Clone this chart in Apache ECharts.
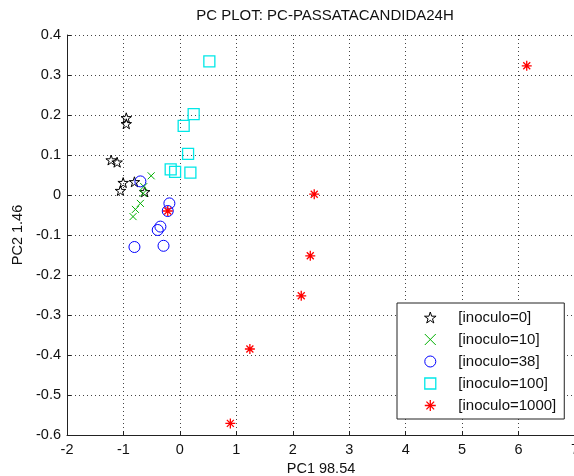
<!DOCTYPE html>
<html>
<head>
<meta charset="utf-8">
<script src="https://cdn.jsdelivr.net/npm/echarts@6/dist/echarts.min.js"></script>
<style>html,body{margin:0;padding:0;background:#fff}#c{width:574px;height:476px}</style>
</head>
<body>
<div id="c"></div>
<script>
var titleText = 'PC PLOT: PC-PASSATACANDIDA24H';
var xName = 'PC1 98.54';
var yName = 'PC2 1.46';
var seriesNames = ['[inoculo=0]', '[inoculo=10]', '[inoculo=38]', '[inoculo=100]', '[inoculo=1000]'];
var inoculo0 = [[-0.95, 0.193], [-0.95, 0.178], [-1.218, 0.0875], [-1.112, 0.082], [-1.005, 0.031], [-1.053, 0.011], [-0.805, 0.033], [-0.623, 0.008]];
var inoculo10 = [[-0.509, 0.048], [-0.64, 0.021], [-0.651, 0.004], [-0.70, -0.021], [-0.788, -0.036], [-0.83, -0.054]];
var inoculo38 = [[-0.70, 0.034], [-0.186, -0.021], [-0.215, -0.04], [-0.345, -0.079], [-0.393, -0.0875], [-0.805, -0.130], [-0.29, -0.127]];
var inoculo100 = [[0.522, 0.334], [0.244, 0.202], [0.067, 0.173], [0.145, 0.103], [-0.163, 0.064], [-0.085, 0.058], [0.186, 0.056]];
var inoculo1000 = [[-0.215, -0.04], [0.894, -0.571], [1.24, -0.385], [2.15, -0.252], [2.31, -0.152], [2.38, 0.002], [6.145, 0.323]];

var FONT = 'Liberation Sans, Arial, sans-serif';
var starPath = 'path://M50,0L61.23,34.55L97.55,34.55L68.16,55.9L79.39,90.45L50,69.1L20.61,90.45L31.84,55.9L2.45,34.55L38.77,34.55Z';
var xPath = 'path://M0,0L10,10M10,0L0,10';
var astPath = 'path://M5,0L5,10M0,5L10,5M1.5,1.5L8.5,8.5M8.5,1.5L1.5,8.5';
var sqPath = 'path://M0,0L10,0L10,10L0,10Z';
var circPath = 'circle';

var colors = ['#000000', '#00b000', '#0000ff', '#00e8e8', '#ff0000'];
var symbols = [starPath, xPath, circPath, sqPath, astPath];
var sizes = [10.5, 7, 11, 11, 10];
var widths = [1, 1, 1, 1.3, 1.3];
var datasets = [inoculo0, inoculo10, inoculo38, inoculo100, inoculo1000];

var series = [];
var legendData = [];
for (var i = 0; i < seriesNames.length; i++) {
  var st = { color: 'rgba(0,0,0,0)', borderColor: colors[i], borderWidth: widths[i], opacity: 1 };
  series.push({
    name: seriesNames[i], type: 'scatter', data: datasets[i], symbol: symbols[i], symbolSize: sizes[i],
    symbolKeepAspect: true, itemStyle: st, emphasis: { disabled: true }, animation: false
  });
  legendData.push({ name: seriesNames[i], icon: symbols[i], itemStyle: { color: 'rgba(0,0,0,0)', borderColor: colors[i], borderWidth: widths[i] } });
}

var chart = echarts.init(document.getElementById('c'), null, { renderer: 'canvas' });
chart.setOption({
  animation: false,
  backgroundColor: '#fff',
  title: {
    text: titleText, left: 320, top: 3, textAlign: 'center',
    textStyle: { fontSize: 15, fontWeight: 'normal', color: '#111', fontFamily: FONT }
  },
  grid: { left: 67, right: -1, top: 35, bottom: 41, containLabel: false, outerBoundsMode: 'none' },
  legend: {
    orient: 'vertical', left: 397, top: 303,
    padding: [7, 8, 6, 27], itemGap: 7, itemWidth: 46, itemHeight: 11,
    backgroundColor: '#fff', borderColor: '#222', borderWidth: 1, borderRadius: 0,
    symbolKeepAspect: true,
    textStyle: { fontSize: 15, color: '#111', fontFamily: FONT },
    data: legendData
  },
  xAxis: {
    type: 'value', min: -2, max: 7, interval: 1,
    name: xName, nameLocation: 'middle', nameGap: 24,
    nameTextStyle: { fontSize: 14.5, color: '#111', fontFamily: FONT },
    axisLine: { show: true, onZero: false, lineStyle: { color: '#222', width: 1 } },
    axisTick: { show: true, inside: true, length: 4, lineStyle: { color: '#222' } },
    axisLabel: { fontSize: 14.5, color: '#111', fontFamily: FONT, margin: 7 },
    splitLine: { show: true, lineStyle: { color: '#444', width: 1, type: [1, 3] } }
  },
  yAxis: {
    type: 'value', min: -0.6, max: 0.4, interval: 0.1,
    name: yName, nameLocation: 'middle', nameGap: 37,
    nameTextStyle: { fontSize: 14.5, color: '#111', fontFamily: FONT },
    axisLine: { show: true, onZero: false, lineStyle: { color: '#222', width: 1 } },
    axisTick: { show: true, inside: true, length: 4, lineStyle: { color: '#222' } },
    axisLabel: { fontSize: 14.5, color: '#111', fontFamily: FONT, margin: 6 },
    splitLine: { show: true, lineStyle: { color: '#444', width: 1, type: [1, 3] } }
  },
  series: series
});
</script>
</body>
</html>
